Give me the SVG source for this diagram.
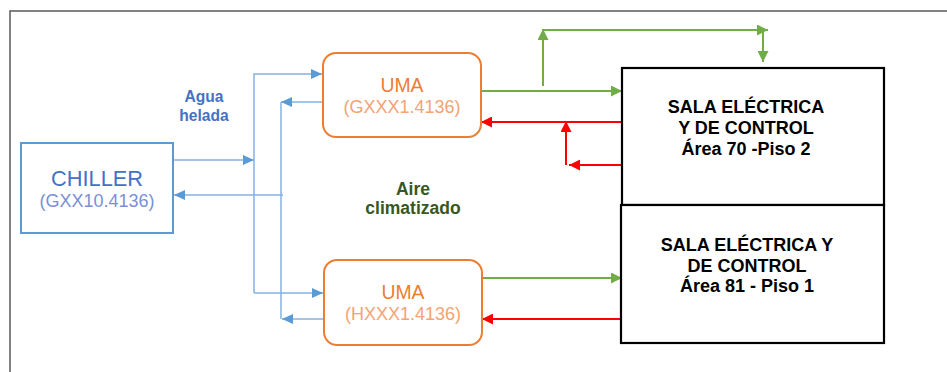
<svg xmlns="http://www.w3.org/2000/svg" width="947" height="372" viewBox="0 0 947 372">
<style>
.frame{fill:none;stroke:#5a5a5a;stroke-width:1.5}
.blue{fill:none;stroke:#86b0e0;stroke-width:1.5}
.green{fill:none;stroke:#70ad47;stroke-width:2}
.red{fill:none;stroke:#ff0000;stroke-width:2}
.chiller{fill:#fff;stroke:#5b9bd5;stroke-width:2}
.uma{fill:#fff;stroke:#ed7d31;stroke-width:2}
.sala{fill:#fff;stroke:#000;stroke-width:2.2}
text{font-family:"Liberation Sans",Arial,sans-serif;text-anchor:middle}
.ct{fill:#4472c4;font-size:21.8px}
.cs{fill:#7b8fd8;font-size:18px}
.ut{fill:#ed7d31;font-size:19.4px}
.us{fill:#f4a373;font-size:18px}
.st{fill:#000;font-size:18px;font-weight:bold}
.agua{fill:#4472c4;font-size:15.6px;font-weight:bold}
.aire{fill:#385723;font-size:17.5px;font-weight:bold}
</style>
<defs>
<marker id="ab" markerUnits="userSpaceOnUse" markerWidth="11" markerHeight="10" refX="11" refY="5" orient="auto"><path d="M0,0 L11,5 L0,10 z" fill="#5b9bd5"/></marker>
<marker id="ag" markerUnits="userSpaceOnUse" markerWidth="11" markerHeight="11" refX="11" refY="5.5" orient="auto"><path d="M0,0 L11,5.5 L0,11 z" fill="#70ad47"/></marker>
<marker id="ar" markerUnits="userSpaceOnUse" markerWidth="11" markerHeight="11" refX="11" refY="5.5" orient="auto"><path d="M0,0 L11,5.5 L0,11 z" fill="#ff0000"/></marker>
</defs>
<path class="frame" d="M10,372 V11 H947"/>
<g id="connectors">
<path class="blue" d="M173,160 H254" marker-end="url(#ab)"/>
<path class="blue" d="M254,293 V74 H322" marker-end="url(#ab)"/>
<path class="blue" d="M254,293 H323" marker-end="url(#ab)"/>
<path class="blue" d="M322,102 H281" marker-end="url(#ab)"/>
<path class="blue" d="M281,102 V319"/>
<path class="blue" d="M323,319 H282" marker-end="url(#ab)"/>
<path class="blue" d="M283,195 H174" marker-end="url(#ab)"/>
<path class="green" d="M481,91 H622" marker-end="url(#ag)"/>
<path class="green" d="M543,86 V29" marker-end="url(#ag)"/>
<path class="green" d="M543,30 H768" marker-end="url(#ag)"/>
<path class="green" d="M763,30 V62" marker-end="url(#ag)"/>
<path class="red" d="M622,122 H481" marker-end="url(#ar)"/>
<path class="red" d="M566,165 V121" marker-end="url(#ar)"/>
<path class="red" d="M625,165 H569" marker-end="url(#ar)"/>
<path class="green" d="M482,278 H622" marker-end="url(#ag)"/>
<path class="red" d="M622,319 H482" marker-end="url(#ar)"/>
</g>
<g id="chiller">
<rect class="chiller" x="21" y="143" width="152" height="90"/>
<text class="ct" x="97" y="186">CHILLER</text>
<text class="cs" x="97" y="207">(GXX10.4136)</text>
</g>
<g id="uma1">
<rect class="uma" x="323" y="53" width="158" height="84" rx="13"/>
<text class="ut" x="402" y="92">UMA</text>
<text class="us" x="402" y="113">(GXXX1.4136)</text>
</g>
<g id="uma2">
<rect class="uma" x="324" y="260" width="158" height="85" rx="13"/>
<text class="ut" x="403" y="299">UMA</text>
<text class="us" x="403" y="320">(HXXX1.4136)</text>
</g>
<g id="sala1">
<rect class="sala" x="622" y="68" width="262" height="137"/>
<text class="st" x="746" y="113">SALA ELÉCTRICA</text>
<text class="st" x="746" y="134">Y DE CONTROL</text>
<text class="st" x="746" y="155">Área 70 -Piso 2</text>
</g>
<g id="sala2">
<rect class="sala" x="621" y="205" width="263" height="138"/>
<text class="st" x="747" y="251">SALA ELÉCTRICA Y</text>
<text class="st" x="747" y="272">DE CONTROL</text>
<text class="st" x="747" y="292">Área 81 - Piso 1</text>
</g>
<g id="label-agua">
<text class="agua" x="204" y="102">Agua</text>
<text class="agua" x="204" y="121">helada</text>
</g>
<g id="label-aire">
<text class="aire" x="413" y="195">Aire</text>
<text class="aire" x="413" y="214">climatizado</text>
</g>
</svg>
